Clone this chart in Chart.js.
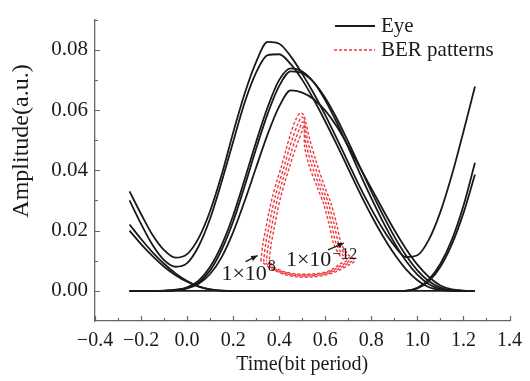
<!DOCTYPE html>
<html>
<head>
<meta charset="utf-8">
<script src="https://cdn.jsdelivr.net/npm/chart.js@4.4.1/dist/chart.umd.min.js"></script>
<style>
    html, body { margin: 0; padding: 0; background: #fff; }
    #wrap { width: 530px; height: 381px; }
</style>
</head>
<body>
<div id="wrap"><canvas id="eye-chart" width="530" height="381"></canvas></div>
<script>
// Eye diagram with BER contour overlay

var timePoints = [-0.25, -0.20, -0.15, -0.10, -0.05, 0.00, 0.05, 0.10, 0.15, 0.20, 0.25,
                  0.30, 0.35, 0.40, 0.45, 0.50, 0.55, 0.60, 0.65, 0.70, 0.75, 0.80,
                  0.85, 0.90, 0.95, 1.00, 1.05, 1.10, 1.15, 1.20, 1.25];

// 1-1-1 trace (highest peak)
var eyeHigh1 = [0.0330, 0.0255, 0.0185, 0.0135, 0.0110, 0.0122, 0.0175, 0.0265, 0.0385, 0.0525, 0.0655,
                0.0760, 0.0826, 0.0820, 0.0778, 0.0720, 0.0655, 0.0583, 0.0505, 0.0425, 0.0345, 0.0272,
                0.0205, 0.0150, 0.0112, 0.0118, 0.0170, 0.0262, 0.0385, 0.0528, 0.0678];
// 1-1-0 trace
var eyeHigh2 = [0.0300, 0.0222, 0.0152, 0.0102, 0.0080, 0.0092, 0.0148, 0.0240, 0.0362, 0.0495, 0.0625,
                0.0725, 0.0782, 0.0785, 0.0752, 0.0700, 0.0635, 0.0562, 0.0485, 0.0405, 0.0325, 0.0250,
                0.0182, 0.0122, 0.0072, 0.0035, 0.0012, 0.0003, 0.0000, 0.0000, 0.0000];
// 0-1-0 traces
var eyeRise1 = [0.0000, 0.0000, 0.0000, 0.0001, 0.0004, 0.0012, 0.0034, 0.0080, 0.0152, 0.0250, 0.0370,
                0.0495, 0.0610, 0.0700, 0.0738, 0.0728, 0.0692, 0.0632, 0.0558, 0.0476, 0.0390, 0.0308,
                0.0230, 0.0160, 0.0100, 0.0054, 0.0022, 0.0006, 0.0001, 0.0000, 0.0000];
var eyeRise2 = [0.0000, 0.0000, 0.0000, 0.0000, 0.0002, 0.0009, 0.0028, 0.0068, 0.0136, 0.0230, 0.0348,
                0.0472, 0.0588, 0.0680, 0.0728, 0.0722, 0.0692, 0.0640, 0.0572, 0.0494, 0.0412, 0.0330,
                0.0252, 0.0180, 0.0118, 0.0068, 0.0032, 0.0011, 0.0002, 0.0000, 0.0000];
var eyeRise3 = [0.0000, 0.0000, 0.0000, 0.0000, 0.0002, 0.0008, 0.0024, 0.0056, 0.0112, 0.0195, 0.0298,
                0.0410, 0.0520, 0.0612, 0.0665, 0.0658, 0.0636, 0.0598, 0.0545, 0.0480, 0.0410, 0.0340,
                0.0270, 0.0202, 0.0140, 0.0087, 0.0046, 0.0018, 0.0005, 0.0001, 0.0000];
// 1-0-1 traces
var eyeFall1 = [0.0220, 0.0172, 0.0128, 0.0090, 0.0058, 0.0033, 0.0015, 0.0005, 0.0001, 0.0000, 0.0000,
                0.0000, 0.0000, 0.0000, 0.0000, 0.0000, 0.0000, 0.0000, 0.0000, 0.0000, 0.0000, 0.0000,
                0.0000, 0.0000, 0.0001, 0.0010, 0.0038, 0.0090, 0.0170, 0.0282, 0.0425];
var eyeFall2 = [0.0200, 0.0155, 0.0115, 0.0080, 0.0052, 0.0030, 0.0014, 0.0005, 0.0001, 0.0000, 0.0000,
                0.0000, 0.0000, 0.0000, 0.0000, 0.0000, 0.0000, 0.0000, 0.0000, 0.0000, 0.0000, 0.0000,
                0.0000, 0.0000, 0.0000, 0.0008, 0.0032, 0.0080, 0.0155, 0.0258, 0.0386];
// 0-0-0 baseline
var eyeZero  = [0, 0, 0, 0, 0, 0, 0, 0, 0, 0, 0, 0, 0, 0, 0, 0, 0, 0, 0, 0, 0, 0, 0, 0, 0, 0, 0, 0, 0, 0, 0];

// BER contours, [time, amplitude] pairs, outer to inner
var berContour1 = [[0.320, 0.0100], [0.330, 0.0160], [0.340, 0.0200], [0.355, 0.0260], [0.370, 0.0310],
                   [0.390, 0.0365], [0.410, 0.0414], [0.430, 0.0470], [0.450, 0.0522], [0.470, 0.0565],
                   [0.490, 0.0590], [0.505, 0.0585], [0.515, 0.0560], [0.530, 0.0510], [0.560, 0.0430],
                   [0.600, 0.0340], [0.625, 0.0290], [0.650, 0.0220], [0.670, 0.0155], [0.700, 0.0120],
                   [0.728, 0.0100], [0.700, 0.0085], [0.650, 0.0065], [0.600, 0.0052], [0.540, 0.0046],
                   [0.480, 0.0046], [0.420, 0.0055], [0.370, 0.0072], [0.335, 0.0090], [0.320, 0.0100]];
var berContour2 = [[0.332, 0.0100], [0.342, 0.0160], [0.352, 0.0200], [0.367, 0.0260], [0.382, 0.0310],
                   [0.402, 0.0365], [0.422, 0.0414], [0.442, 0.0468], [0.462, 0.0515], [0.480, 0.0552],
                   [0.496, 0.0576], [0.506, 0.0572], [0.512, 0.0548], [0.523, 0.0500], [0.550, 0.0425],
                   [0.589, 0.0340], [0.614, 0.0290], [0.639, 0.0220], [0.659, 0.0155], [0.690, 0.0118],
                   [0.716, 0.0100], [0.690, 0.0087], [0.645, 0.0068], [0.600, 0.0056], [0.540, 0.0050],
                   [0.480, 0.0050], [0.420, 0.0058], [0.370, 0.0074], [0.345, 0.0090], [0.332, 0.0100]];
var berContour3 = [[0.344, 0.0100], [0.354, 0.0160], [0.364, 0.0200], [0.379, 0.0260], [0.394, 0.0310],
                   [0.414, 0.0365], [0.434, 0.0414], [0.454, 0.0465], [0.473, 0.0508], [0.489, 0.0540],
                   [0.500, 0.0560], [0.507, 0.0557], [0.510, 0.0535], [0.516, 0.0490], [0.540, 0.0420],
                   [0.578, 0.0340], [0.603, 0.0290], [0.628, 0.0220], [0.648, 0.0155], [0.680, 0.0115],
                   [0.704, 0.0100], [0.680, 0.0089], [0.640, 0.0071], [0.600, 0.0059], [0.540, 0.0053],
                   [0.480, 0.0053], [0.420, 0.0061], [0.372, 0.0077], [0.355, 0.0090], [0.344, 0.0100]];
var berContour4 = [[0.356, 0.0100], [0.366, 0.0160], [0.376, 0.0200], [0.391, 0.0260], [0.406, 0.0310],
                   [0.426, 0.0365], [0.446, 0.0414], [0.466, 0.0462], [0.484, 0.0500], [0.498, 0.0528],
                   [0.504, 0.0544], [0.508, 0.0540], [0.509, 0.0520], [0.510, 0.0480], [0.530, 0.0415],
                   [0.567, 0.0340], [0.592, 0.0290], [0.617, 0.0220], [0.637, 0.0155], [0.668, 0.0112],
                   [0.692, 0.0100], [0.668, 0.0091], [0.635, 0.0074], [0.600, 0.0062], [0.540, 0.0056],
                   [0.480, 0.0056], [0.420, 0.0064], [0.375, 0.0080], [0.365, 0.0090], [0.356, 0.0100]];

var timeTicks = [-0.4, -0.2, 0.0, 0.2, 0.4, 0.6, 0.8, 1.0, 1.2, 1.4];
var ampTicks = [0.00, 0.02, 0.04, 0.06, 0.08];

var SERIF = "'Liberation Serif', 'Times New Roman', serif";
var INK = '#1a1a1a';
var AXIS = '#666';
var BER_RED = '#ee3a40';

function eyeSeries(values) {
    return values.map(function(v, i) { return { x: timePoints[i], y: v }; });
}

function pairSeries(pairs) {
    return pairs.map(function(p) { return { x: p[0], y: p[1] }; });
}

function fmtTick(v, digits) {
    var s = Math.abs(v).toFixed(digits);
    return (v < -1e-9 ? '\u2212' : '') + s;
}

var eyeSets = [eyeHigh1, eyeHigh2, eyeRise1, eyeRise2, eyeRise3, eyeFall1, eyeFall2, eyeZero];
var datasets = eyeSets.map(function(vals) {
    return {
        data: eyeSeries(vals),
        borderColor: INK,
        borderWidth: 1.8,
        pointRadius: 0,
        fill: false,
        cubicInterpolationMode: 'monotone'
    };
});
[berContour1, berContour2, berContour3, berContour4].forEach(function(c, i) {
    datasets.push({
        data: pairSeries(c),
        borderColor: BER_RED,
        borderWidth: 1.4,
        borderDash: [3, 2],
        borderDashOffset: i * 1.2,
        pointRadius: 0,
        fill: false,
        tension: 0.3
    });
});

// legend, inward ticks, y title and the BER level labels
var extrasPlugin = {
    id: 'extras',
    afterDraw: function(chart) {
        var ctx = chart.ctx;
        var xs = chart.scales.x, ys = chart.scales.y;
        var area = chart.chartArea;
        ctx.save();

        // inward ticks
        ctx.strokeStyle = AXIS;
        ctx.lineWidth = 1.2;
        ctx.beginPath();
        for (var k = 0; k <= 18; k++) {
            var tv = -0.4 + k * 0.1;
            var px = Math.round(xs.getPixelForValue(tv)) + 0.5;
            var len = (k % 2 === 0) ? 5 : 3;
            ctx.moveTo(px, area.bottom);
            ctx.lineTo(px, area.bottom - len);
        }
        for (var j = 0; j <= 9; j++) {
            var py = Math.round(ys.getPixelForValue(j * 0.01)) + 0.5;
            var l2 = (j % 2 === 0) ? 5 : 3;
            ctx.moveTo(area.left, py);
            ctx.lineTo(area.left + l2, py);
        }
        ctx.stroke();

        // y axis title
        ctx.fillStyle = INK;
        ctx.font = '24px ' + SERIF;
        ctx.textAlign = 'center';
        ctx.textBaseline = 'middle';
        ctx.translate(22, 141);
        ctx.rotate(-Math.PI / 2);
        ctx.fillText('Amplitude(a.u.)', 0, 0);
        ctx.restore();

        // legend
        ctx.save();
        ctx.font = '21px ' + SERIF;
        ctx.fillStyle = INK;
        ctx.textAlign = 'left';
        ctx.textBaseline = 'middle';
        ctx.strokeStyle = INK;
        ctx.lineWidth = 1.8;
        ctx.beginPath();
        ctx.moveTo(335, 26);
        ctx.lineTo(375, 26);
        ctx.stroke();
        ctx.fillText('Eye', 381, 26);
        ctx.strokeStyle = BER_RED;
        ctx.lineWidth = 1.3;
        ctx.setLineDash([3, 2]);
        ctx.beginPath();
        ctx.moveTo(334, 50);
        ctx.lineTo(375, 50);
        ctx.stroke();
        ctx.setLineDash([]);
        ctx.fillText('BER patterns', 381, 50);
        ctx.restore();

        // BER level labels with arrows
        var labels = [
            { t: 0.149, v: 0.0036, sup: '8', rise: 9, from: [0.254, 0.0097], to: [0.306, 0.0117] },
            { t: 0.429, v: 0.0084, sup: '\u221212', rise: 7, from: [0.612, 0.0136], to: [0.681, 0.0159] }
        ];
        ctx.save();
        ctx.fillStyle = INK;
        ctx.strokeStyle = INK;
        labels.forEach(function(lb) {
            var x0 = xs.getPixelForValue(lb.t), y0 = ys.getPixelForValue(lb.v);
            ctx.font = '22px ' + SERIF;
            ctx.textAlign = 'left';
            ctx.textBaseline = 'alphabetic';
            ctx.fillText('1\u00d710', x0, y0);
            var w = ctx.measureText('1\u00d710').width;
            ctx.font = '16px ' + SERIF;
            ctx.fillText(lb.sup, x0 + w + 1, y0 - lb.rise);

            var ax = xs.getPixelForValue(lb.from[0]), ay = ys.getPixelForValue(lb.from[1]);
            var bx = xs.getPixelForValue(lb.to[0]), by = ys.getPixelForValue(lb.to[1]);
            ctx.lineWidth = 1.2;
            ctx.beginPath();
            ctx.moveTo(ax, ay);
            ctx.lineTo(bx, by);
            ctx.stroke();
            var ang = Math.atan2(by - ay, bx - ax);
            ctx.beginPath();
            ctx.moveTo(bx, by);
            ctx.lineTo(bx - 7 * Math.cos(ang - 0.4), by - 7 * Math.sin(ang - 0.4));
            ctx.lineTo(bx - 7 * Math.cos(ang + 0.4), by - 7 * Math.sin(ang + 0.4));
            ctx.closePath();
            ctx.fill();
        });
        ctx.restore();
    }
};

new Chart(document.getElementById('eye-chart').getContext('2d'), {
    type: 'line',
    data: { datasets: datasets },
    plugins: [extrasPlugin],
    options: {
        responsive: false,
        animation: false,
        layout: { padding: { top: 12, right: 17, left: 0, bottom: 0 } },
        plugins: { legend: { display: false }, tooltip: { enabled: false } },
        scales: {
            x: {
                type: 'linear',
                min: -0.4, max: 1.4,
                afterBuildTicks: function(s) { s.ticks = timeTicks.map(function(v) { return { value: v }; }); },
                afterFit: function(s) { s.height = 60; },
                ticks: {
                    callback: function(v) { return fmtTick(v, 1); },
                    font: { family: SERIF, size: 20 },
                    color: INK, padding: 8, maxRotation: 0, autoSkip: false
                },
                grid: { drawOnChartArea: false, drawTicks: false },
                border: { color: AXIS, width: 1.3 },
                title: {
                    display: true, text: 'Time(bit period)',
                    font: { family: SERIF, size: 20 }, color: INK,
                    padding: { top: 0, bottom: 4 }
                }
            },
            y: {
                type: 'linear',
                min: -0.01, max: 0.09,
                afterBuildTicks: function(s) { s.ticks = ampTicks.map(function(v) { return { value: v }; }); },
                afterFit: function(s) { s.width = 95; },
                ticks: {
                    callback: function(v) { return fmtTick(v, 2); },
                    font: { family: SERIF, size: 21 },
                    color: INK, padding: 7
                },
                grid: { drawOnChartArea: false, drawTicks: false },
                border: { color: AXIS, width: 1.3 }
            }
        }
    }
});
</script>
</body>
</html>
